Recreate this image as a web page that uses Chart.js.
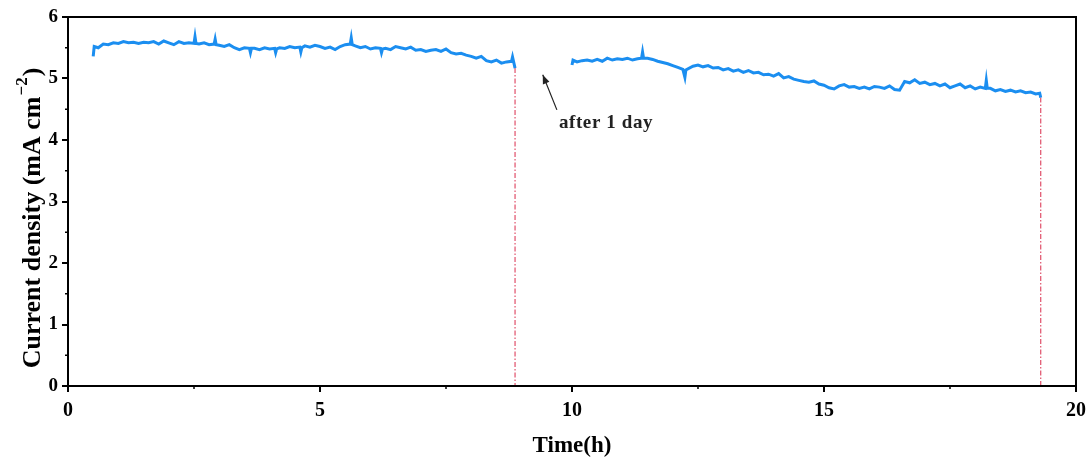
<!DOCTYPE html>
<html><head><meta charset="utf-8">
<script src="https://cdn.jsdelivr.net/npm/chart.js@4"></script>
<style>html,body{margin:0;padding:0;background:#fff}#wrap{width:1088px;height:457px}</style>
</head><body><div id="wrap"><canvas id="c" width="1088" height="457"></canvas></div>
<script>
const run1X = [0.5,0.52,0.6,0.7,0.8,0.9,1.0,1.1,1.2,1.3,1.4,1.5,1.6,1.7,1.8,1.9,2.0,2.1,2.2,2.3,2.4,2.5,2.52,2.54,2.6,2.7,2.8,2.9,2.92,2.94,3.0,3.1,3.2,3.3,3.4,3.5,3.6,3.62,3.64,3.7,3.8,3.9,4.0,4.1,4.12,4.14,4.2,4.3,4.4,4.5,4.6,4.62,4.64,4.7,4.8,4.9,5.0,5.1,5.2,5.3,5.4,5.5,5.6,5.62,5.64,5.7,5.8,5.9,6.0,6.1,6.2,6.22,6.24,6.3,6.4,6.5,6.6,6.7,6.8,6.9,7.0,7.1,7.2,7.3,7.4,7.5,7.6,7.7,7.8,7.9,8.0,8.1,8.2,8.3,8.4,8.5,8.6,8.7,8.8,8.82,8.87];
const run1Y = [5.36,5.52,5.50,5.56,5.55,5.58,5.57,5.60,5.58,5.59,5.57,5.59,5.58,5.60,5.56,5.61,5.58,5.55,5.60,5.57,5.58,5.57,5.68,5.57,5.56,5.58,5.55,5.56,5.64,5.55,5.54,5.52,5.55,5.50,5.47,5.50,5.49,5.42,5.49,5.49,5.47,5.50,5.48,5.49,5.42,5.48,5.50,5.49,5.52,5.50,5.51,5.43,5.50,5.53,5.51,5.54,5.52,5.49,5.51,5.47,5.52,5.55,5.56,5.66,5.55,5.53,5.50,5.52,5.48,5.50,5.49,5.42,5.48,5.49,5.47,5.52,5.50,5.48,5.51,5.46,5.47,5.44,5.46,5.47,5.44,5.48,5.42,5.40,5.41,5.38,5.36,5.33,5.36,5.29,5.27,5.30,5.25,5.27,5.28,5.35,5.17];
const run2X = [10.0,10.02,10.1,10.2,10.3,10.4,10.5,10.6,10.7,10.8,10.9,11.0,11.1,11.2,11.3,11.38,11.4,11.42,11.5,11.6,11.7,11.8,11.9,12.0,12.1,12.2,12.24,12.26,12.4,12.5,12.6,12.7,12.8,12.9,13.0,13.1,13.2,13.3,13.4,13.5,13.6,13.7,13.8,13.9,14.0,14.1,14.2,14.3,14.4,14.5,14.6,14.7,14.8,14.9,15.0,15.1,15.2,15.3,15.4,15.5,15.6,15.7,15.8,15.9,16.0,16.1,16.2,16.3,16.4,16.5,16.6,16.7,16.8,16.9,17.0,17.1,17.2,17.3,17.4,17.5,17.6,17.7,17.8,17.9,18.0,18.1,18.2,18.22,18.24,18.3,18.4,18.5,18.6,18.7,18.8,18.9,19.0,19.1,19.2,19.28,19.3];
const run2Y = [5.22,5.30,5.27,5.29,5.30,5.28,5.31,5.28,5.33,5.30,5.32,5.31,5.33,5.30,5.32,5.33,5.43,5.33,5.33,5.31,5.28,5.26,5.24,5.21,5.18,5.15,5.02,5.14,5.20,5.22,5.19,5.21,5.17,5.18,5.14,5.16,5.12,5.14,5.10,5.13,5.09,5.10,5.06,5.07,5.04,5.08,5.01,5.03,4.99,4.97,4.95,4.94,4.96,4.91,4.89,4.85,4.83,4.88,4.90,4.86,4.87,4.84,4.86,4.83,4.87,4.86,4.84,4.88,4.82,4.81,4.95,4.93,4.98,4.92,4.94,4.90,4.92,4.88,4.91,4.85,4.88,4.91,4.85,4.88,4.83,4.86,4.84,4.97,4.84,4.84,4.80,4.82,4.79,4.81,4.78,4.80,4.77,4.78,4.75,4.76,4.69];
const stopX = [8.87, 19.3];
const stopY = [5.17, 4.69];
const xTicks = [0,5,10,15,20];
const yTicks = [0,1,2,3,4,5,6];
const yTitleMain = 'Current density (mA cm';
const yTitleSup = '\u22122';
const yTitleEnd = ')';
const xTitle = 'Time(h)';
const noteText = 'after 1 day';
const noteTip = [9.42, 5.06];
const noteTail = [9.70, 4.49];
const noteAt = [9.74, 4.28];

const FONT = "'Liberation Serif','Times New Roman',serif";
const blue = '#1b8ef0';
const pts = (xs, ys) => xs.map((x,i)=>({x, y: ys[i]}));

const datasets = [
  {data: pts(run1X, run1Y), borderColor: blue, borderWidth: 3, pointRadius: 0, tension: 0},
  {data: pts(run2X, run2Y), borderColor: blue, borderWidth: 3, pointRadius: 0, tension: 0}
];
stopX.forEach((x,i)=>datasets.push({data:[{x, y: stopY[i]},{x, y: 0}], borderColor:'#e0506a', borderWidth:1.2, borderDash:[5,2,1.5,2], pointRadius:0}));

const decor = {
  id: 'decor',
  afterDraw(chart) {
    const {ctx, chartArea: a, scales: {x, y}} = chart;
    ctx.save();
    ctx.strokeStyle = '#000'; ctx.lineWidth = 2;
    ctx.strokeRect(a.left, a.top, a.right - a.left, a.bottom - a.top);
    ctx.lineWidth = 1.5;
    for (let v = 2.5; v < 20; v += 5) {
      const px = x.getPixelForValue(v);
      ctx.beginPath(); ctx.moveTo(px, a.bottom); ctx.lineTo(px, a.bottom + 3); ctx.stroke();
    }
    for (let v = 0.5; v < 6; v += 1) {
      const py = y.getPixelForValue(v);
      ctx.beginPath(); ctx.moveTo(a.left, py); ctx.lineTo(a.left - 3, py); ctx.stroke();
    }
    const tx = x.getPixelForValue(noteTip[0]), ty = y.getPixelForValue(noteTip[1]);
    const sx = x.getPixelForValue(noteTail[0]), sy = y.getPixelForValue(noteTail[1]);
    ctx.strokeStyle = '#222'; ctx.fillStyle = '#222'; ctx.lineWidth = 1.2;
    ctx.beginPath(); ctx.moveTo(sx, sy); ctx.lineTo(tx, ty); ctx.stroke();
    const ang = Math.atan2(ty - sy, tx - sx);
    ctx.beginPath();
    ctx.moveTo(tx, ty);
    ctx.lineTo(tx - 9*Math.cos(ang) + 3.5*Math.sin(ang), ty - 9*Math.sin(ang) - 3.5*Math.cos(ang));
    ctx.lineTo(tx - 9*Math.cos(ang) - 3.5*Math.sin(ang), ty - 9*Math.sin(ang) + 3.5*Math.cos(ang));
    ctx.closePath(); ctx.fill();
    ctx.font = "bold 19px " + FONT;
    ctx.letterSpacing = '0.6px';
    ctx.textAlign = 'left'; ctx.textBaseline = 'middle';
    ctx.fillText(noteText, x.getPixelForValue(noteAt[0]), y.getPixelForValue(noteAt[1]));
    ctx.letterSpacing = '0px';
    ctx.fillStyle = '#000';
    const big = "bold 26px " + FONT, small = "bold 17px " + FONT;
    ctx.font = big; const w1 = ctx.measureText(yTitleMain).width; const w3 = ctx.measureText(yTitleEnd).width;
    ctx.font = small; const w2 = ctx.measureText(yTitleSup).width + 2;
    const total = w1 + w2 + w3;
    ctx.translate(33, 218); ctx.rotate(-Math.PI/2);
    ctx.textBaseline = 'middle'; ctx.textAlign = 'left';
    let cx = -total/2;
    ctx.font = big; ctx.fillText(yTitleMain, cx, 0); cx += w1;
    ctx.font = small; ctx.fillText(yTitleSup, cx + 1, -10); cx += w2;
    ctx.font = big; ctx.fillText(yTitleEnd, cx, 0);
    ctx.restore();
  }
};

new Chart(document.getElementById('c'), {
  type: 'line',
  data: {datasets},
  options: {
    responsive: false, animation: false,
    layout: {padding: {top: 17, right: 12, left: 0, bottom: 0}},
    plugins: {legend: {display: false}, tooltip: {enabled: false}},
    scales: {
      x: {
        type: 'linear', min: 0, max: 20,
        afterFit(s) { s.height = 71; s.paddingLeft = 0; s.paddingRight = 0; },
        afterBuildTicks(s) { s.ticks = xTicks.map(v => ({value: v})); },
        grid: {drawOnChartArea: false, drawTicks: true, tickLength: 6, color: '#000', lineWidth: 2},
        border: {display: true, color: '#000', width: 2},
        ticks: {color: '#000', padding: 7, font: {family: FONT, size: 20, weight: 'bold'}, maxRotation: 0},
        title: {display: true, text: xTitle, color: '#000', font: {family: FONT, size: 23, weight: 'bold'}, padding: {top: 0, bottom: -3}}
      },
      y: {
        type: 'linear', min: 0, max: 6,
        afterFit(s) { s.width = 68; s.paddingTop = 0; s.paddingBottom = 0; },
        afterBuildTicks(s) { s.ticks = yTicks.map(v => ({value: v})); },
        grid: {drawOnChartArea: false, drawTicks: true, tickLength: 6, color: '#000', lineWidth: 2},
        border: {display: true, color: '#000', width: 2},
        ticks: {color: '#000', padding: 4, font: {family: FONT, size: 19, weight: 'bold'}},
        title: {display: false}
      }
    }
  },
  plugins: [decor]
});
</script></body></html>
